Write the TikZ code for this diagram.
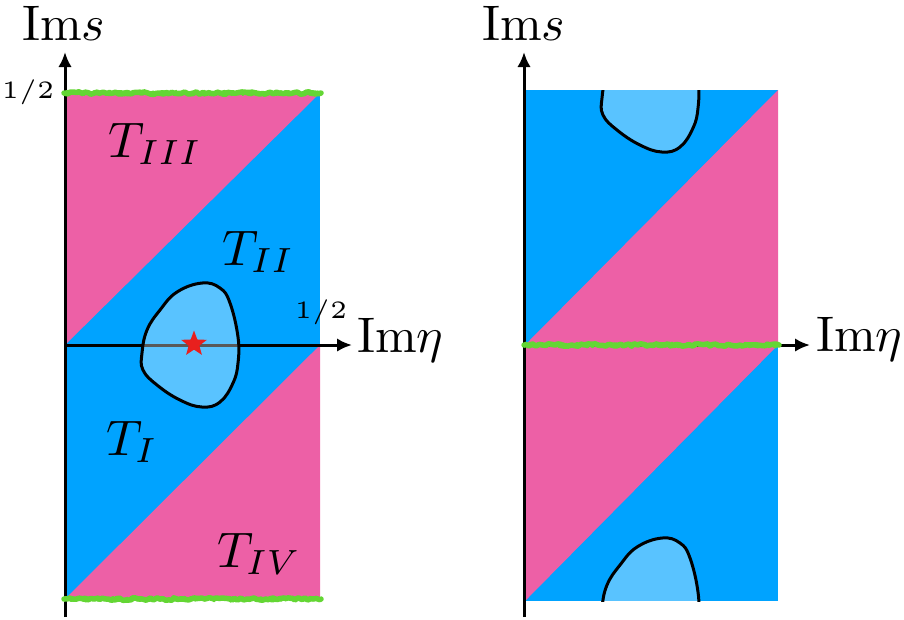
\documentclass[tikz,border=0pt]{standalone}
\usetikzlibrary{arrows.meta,shapes.geometric,decorations.pathmorphing}
\definecolor{cblue}{RGB}{0,163,255}
\definecolor{cpink}{RGB}{237,96,166}
\definecolor{cgreen}{RGB}{100,214,52}
\definecolor{cstar}{RGB}{232,32,30}
\def\blobpts{(7,-62) (25,-57) (35,-42) (43,-8) (43,18) (38,38) (25,57) (7,62) (-15,55) (-38,40) (-52,25) (-53,8) (-48,-15) (-35,-35) (-18,-53)}
\begin{document}
\begin{tikzpicture}[x=0.2pt,y=-0.2pt,
  axis/.style={line width=0.6pt,-{Latex[length=3pt,width=2.7pt]}},
  blobline/.style={line width=0.6pt,draw=black,fill=white,fill opacity=0.35},
  greenline/.style={draw=cgreen,line width=1.1pt,line join=round,line cap=round,decorate,
    decoration={random steps,segment length=0.6pt,amplitude=0.25pt}},
  greenfuzz/.style={draw=cgreen,line width=0.5pt,line join=round,line cap=round,decorate,
    decoration={random steps,segment length=0.4pt,amplitude=0.45pt}},
  lab/.style={inner sep=0pt,anchor=base west},
  half/.style={inner sep=0pt,anchor=base,font=\tiny}]
\useasboundingbox (0,0) rectangle (904,619);
% ---------- left panel ----------
\fill[cblue] (65,93) rectangle (320,599);
\fill[cpink] (65,93) -- (320,93) -- (65,345) -- cycle;
\fill[cpink] (320,345) -- (320,599) -- (65,599) -- cycle;
\coordinate (lo) at (65,345);
\coordinate (lb) at (65,617);
\coordinate (lt) at (65,52);
\coordinate (lr) at (352,345);
\draw[axis] (lb) -- (lt);
\draw[axis] (lo) -- (lr);
\begin{scope}[shift={(195,345)}]
  \draw[blobline] plot[smooth cycle,tension=0.7] coordinates {\blobpts};
\end{scope}
\node[star,star points=5,star point ratio=2.4,minimum size=5.4pt,inner sep=0pt,fill=cstar] (st) at (194,344) {};
\coordinate (gl1a) at (64,93);
\coordinate (gl1b) at (321,93);
\coordinate (gl2a) at (64,599);
\coordinate (gl2b) at (321,599);
\draw[greenline] (gl1a) -- (gl1b);
\draw[greenfuzz] (gl1a) -- (gl1b);
\draw[greenline] (gl2a) -- (gl2b);
\draw[greenfuzz] (gl2a) -- (gl2b);
\node[lab] (ims1) at (21,40) {$\mathrm{Im}s$};
\node[lab] (ime1) at (356,352) {$\mathrm{Im}\eta$};
\node[half] (h1) at (28,98) {$1/2$};
\node[half] (h2) at (321,318) {$1/2$};
\node[lab] (t3) at (108,157) {$T_{III}$};
\node[lab] (t2) at (221,265) {$T_{II}$};
\node[lab] (t1) at (105,455) {$T_{I}$};
\node[lab] (t4) at (216,567) {$T_{IV}$};
% ---------- right panel ----------
\fill[cblue] (525,90) rectangle (778,601);
\fill[cpink] (778,90) -- (778,345) -- (525,345) -- cycle;
\fill[cpink] (525,345) -- (778,345) -- (525,601) -- cycle;
\begin{scope}
  \clip (525,90) rectangle (778,601);
  \begin{scope}[shift={(655,90)}]
    \draw[blobline] plot[smooth cycle,tension=0.7] coordinates {\blobpts};
  \end{scope}
  \begin{scope}[shift={(655,600)}]
    \draw[blobline] plot[smooth cycle,tension=0.7] coordinates {\blobpts};
  \end{scope}
\end{scope}
\coordinate (ro) at (524,345);
\coordinate (rb) at (524,617);
\coordinate (rt) at (524,52);
\coordinate (rr) at (810,345);
\draw[axis] (rb) -- (rt);
\draw[axis] (ro) -- (rr);
\coordinate (gr1) at (524,345);
\coordinate (gr2) at (779,345);
\draw[greenline] (gr1) -- (gr2);
\draw[greenfuzz] (gr1) -- (gr2);
\node[lab] (ims2) at (481,40) {$\mathrm{Im}s$};
\node[lab] (ime2) at (815,351) {$\mathrm{Im}\eta$};
\end{tikzpicture}
\end{document}
